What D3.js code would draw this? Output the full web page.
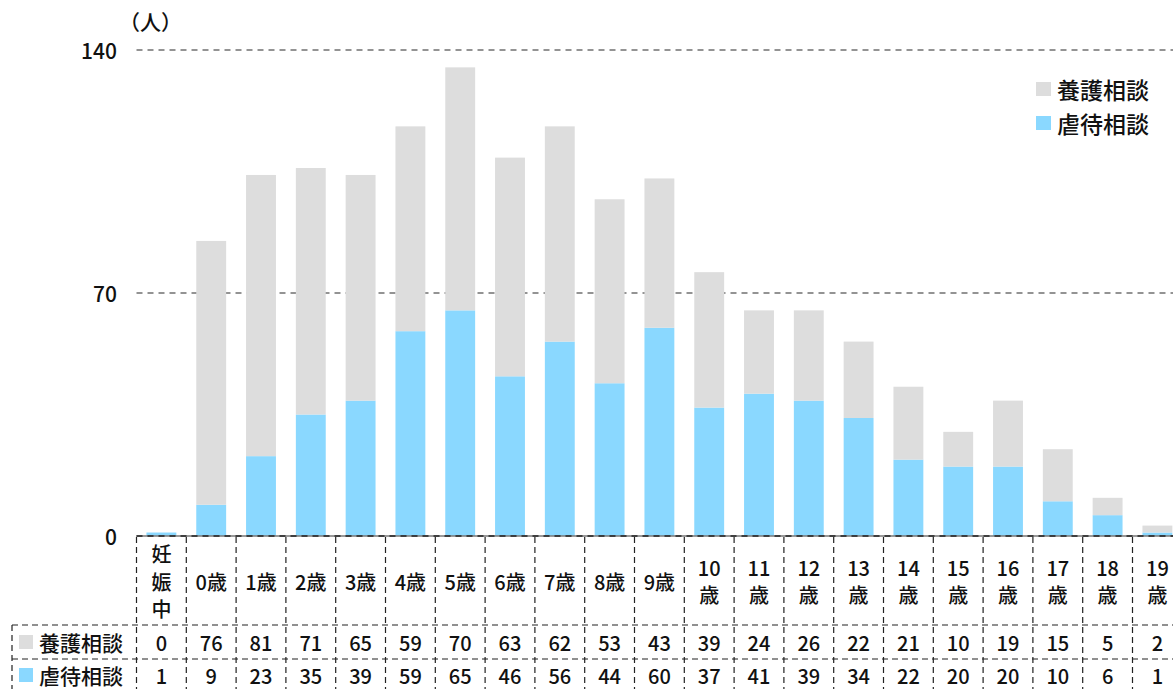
<!DOCTYPE html>
<html lang="ja">
<head>
<meta charset="utf-8">
<script src="https://cdn.jsdelivr.net/npm/d3@7.9.0/dist/d3.min.js"></script>
<style>
  body { margin: 0; background: #fff; }
  svg { display: block; font-family: "Noto Sans CJK JP", "Noto Sans", sans-serif; font-weight: 500; }
</style>
</head>
<body>
<svg id="chart" width="1173" height="689"></svg>
<script>
const categories = ["妊娠中", "0歳", "1歳", "2歳", "3歳", "4歳", "5歳", "6歳", "7歳", "8歳", "9歳",
    "10歳", "11歳", "12歳", "13歳", "14歳", "15歳", "16歳", "17歳", "18歳", "19歳"];
const seriesNames = ["養護相談", "虐待相談"];
const yougo = [0, 76, 81, 71, 65, 59, 70, 63, 62, 53, 43, 39, 24, 26, 22, 21, 10, 19, 15, 5, 2];
const gyakutai = [1, 9, 23, 35, 39, 59, 65, 46, 56, 44, 60, 37, 41, 39, 34, 22, 20, 20, 10, 6, 1];
const yTicks = [0, 70, 140];

const colors = { "養護相談": "#dddddd", "虐待相談": "#8ad8ff" };

const svg = d3.select('#chart');

// plot area
const left = 136.5, step = 49.8;
const x = d3.scaleBand()
    .domain(categories)
    .range([left, left + step * categories.length])
    .paddingInner(0).paddingOuter(0);
const barW = x.bandwidth() * 0.6;
const y = d3.scaleLinear().domain([0, 140]).range([536, 50]);

// gridlines
svg.append('g').selectAll('line')
    .data(yTicks.filter(d => d > 0))
    .join('line')
    .attr('x1', left).attr('x2', 1173)
    .attr('y1', d => y(d)).attr('y2', d => y(d))
    .attr('stroke', '#707070').attr('stroke-width', 1.6)
    .attr('stroke-dasharray', '6,5');

// y tick labels
svg.append('g').selectAll('text')
    .data(yTicks)
    .join('text')
    .attr('x', 117).attr('y', d => y(d))
    .attr('text-anchor', 'end').attr('dominant-baseline', 'central')
    .attr('font-size', 21).attr('fill', '#111')
    .text(d => d);

svg.append('text')
    .attr('x', 119).attr('y', 21)
    .attr('dominant-baseline', 'central')
    .attr('font-size', 21).attr('fill', '#111')
    .text('（人）');

// stacked bars: 虐待 at bottom, 養護 on top
const rows = categories.map((c, i) => ({ cat: c, "虐待相談": gyakutai[i], "養護相談": yougo[i] }));
const stack = d3.stack().keys(["虐待相談", "養護相談"])(rows);

svg.append('g').selectAll('g')
    .data(stack)
    .join('g')
    .attr('fill', s => colors[s.key])
    .selectAll('rect')
    .data(s => s)
    .join('rect')
    .attr('x', d => x(d.data.cat) + (x.bandwidth() - barW) / 2)
    .attr('width', barW)
    .attr('y', d => y(d[1]))
    .attr('height', d => y(d[0]) - y(d[1]));

// baseline
svg.append('line')
    .attr('x1', left).attr('x2', 1173).attr('y1', 536).attr('y2', 536)
    .attr('stroke', '#777').attr('stroke-width', 1.5);
svg.append('line')
    .attr('x1', left).attr('x2', 1173).attr('y1', 536).attr('y2', 536)
    .attr('stroke', '#222').attr('stroke-width', 1.5)
    .attr('stroke-dasharray', '6,5');

// legend
const legend = svg.append('g');
seriesNames.forEach((name, i) => {
    const ly = 89 + i * 34;
    legend.append('rect')
        .attr('x', 1036).attr('y', ly - 7).attr('width', 15).attr('height', 14)
        .attr('fill', colors[name]);
    legend.append('text')
        .attr('x', 1057).attr('y', ly)
        .attr('dominant-baseline', 'central')
        .attr('font-size', 23).attr('fill', '#111')
        .text(name);
});

// data table
const table = svg.append('g');
const dash = { stroke: '#222', width: 1.2, arr: '6,4' };
const hdrTop = 537, row1 = 625, row2 = 659, bottom = 693;

function wrapLabel(s) {
    const m = s.match(/^(\d+)(歳)$/);
    if (m) return m[1].length > 1 ? [m[1], m[2]] : [s];
    return s.split('');
}

// vertical column lines
const bounds = categories.map(c => x(c)).concat([x.range()[1]]);
table.selectAll('line.v')
    .data(bounds)
    .join('line')
    .attr('class', 'v')
    .attr('x1', d => d).attr('x2', d => d)
    .attr('y1', hdrTop).attr('y2', bottom)
    .attr('stroke', dash.stroke).attr('stroke-width', dash.width)
    .attr('stroke-dasharray', dash.arr);

// horizontal row lines
[row1, row2].forEach(yy => {
    table.append('line')
        .attr('x1', 12).attr('x2', 1173).attr('y1', yy).attr('y2', yy)
        .attr('stroke', dash.stroke).attr('stroke-width', dash.width)
        .attr('stroke-dasharray', dash.arr);
});
table.append('line')
    .attr('x1', 12).attr('x2', 12).attr('y1', row1).attr('y2', bottom)
    .attr('stroke', dash.stroke).attr('stroke-width', dash.width)
    .attr('stroke-dasharray', dash.arr);

// category labels
categories.forEach(c => {
    const lines = wrapLabel(c);
    const cx = x(c) + x.bandwidth() / 2;
    const lh = 27.5;
    const cy = 581 - (lines.length - 1) * lh / 2;
    lines.forEach((t, j) => {
        table.append('text')
            .attr('x', cx).attr('y', cy + j * lh)
            .attr('text-anchor', 'middle').attr('dominant-baseline', 'central')
            .attr('font-size', 20).attr('fill', '#111')
            .text(t);
    });
});

// value rows
const rowData = [
    { name: "養護相談", values: yougo, cy: 642 },
    { name: "虐待相談", values: gyakutai, cy: 675 }
];
rowData.forEach(r => {
    table.append('rect')
        .attr('x', 19).attr('y', r.cy - 7).attr('width', 14).attr('height', 14)
        .attr('fill', colors[r.name]);
    table.append('text')
        .attr('x', 39).attr('y', r.cy)
        .attr('dominant-baseline', 'central')
        .attr('font-size', 21).attr('fill', '#111')
        .text(r.name);
    r.values.forEach((v, i) => {
        table.append('text')
            .attr('x', x(categories[i]) + x.bandwidth() / 2).attr('y', r.cy)
            .attr('text-anchor', 'middle').attr('dominant-baseline', 'central')
            .attr('font-size', 20).attr('fill', '#111')
            .text(v);
    });
});
</script>
</body>
</html>
